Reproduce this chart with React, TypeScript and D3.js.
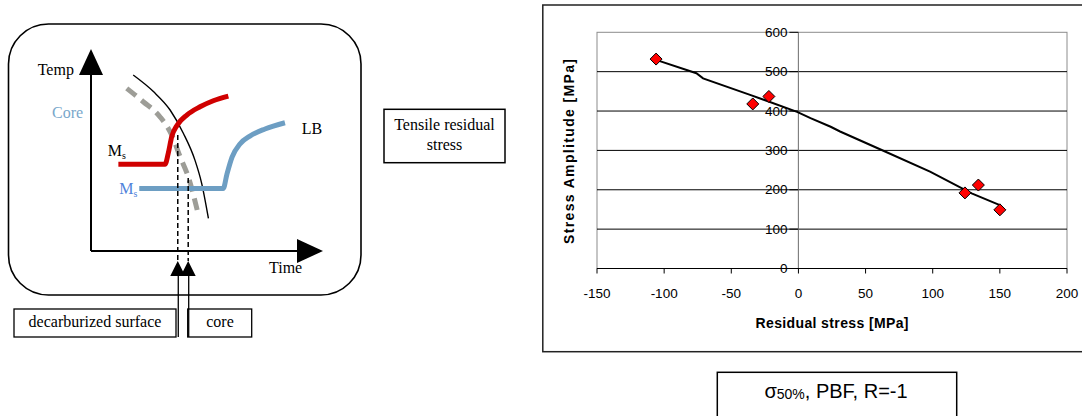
import React from "react";
import * as d3 from "d3";

// scatter data: residual stress vs stress amplitude
const residual = [-106, -34, -22, 124, 134, 150];
const amplitude = [532, 418, 437, 192, 212, 149];

// hand drawn trend line through the points
const trendX = [-106, -76, -71, -36, -1, 9, 24, 31, 62, 98, 129, 150];
const trendY = [530, 496, 483, 441, 398, 382, 360, 348, 301, 246, 191, 161];

const xTicks = [-150, -100, -50, 0, 50, 100, 150, 200];
const yTicks = [0, 100, 200, 300, 400, 500, 600];

// schematic CCT sketch (time / temp units, 0..100)
const redCurve: [number, number][] = [
  [11.8, 42.9], [31.9, 42.9], [33.3, 48.4], [34.8, 56.6], [37.2, 62.4],
  [41.3, 67.3], [47, 71.4], [52.7, 74.4], [59.2, 76.7],
];
const blueCurve: [number, number][] = [
  [20.8, 31], [57, 31], [58.6, 38.1], [60.8, 46.5], [64.2, 53],
  [68.5, 56.9], [75, 60.4], [83.6, 63.5],
];
const grayCurve: [number, number][] = [
  [15.4, 80.5], [22.5, 73.9], [29.7, 66.5], [34.8, 57.4], [38.4, 46.7],
  [41.9, 36.8], [46.3, 17.8],
];
const blackCurve: [number, number][] = [
  [18.2, 87.1], [26.9, 78.9], [34.1, 69.8], [39.8, 58.3], [44.8, 45],
  [47.7, 33.5], [50.6, 16.2],
];
const dropT = [37.4, 41.9];
const dropFrom = [57.4, 36.1];

const serif = "'Liberation Serif', 'Times New Roman', serif";
const sans = "'Liberation Sans', Arial, sans-serif";

const Schematic = () => {
  const sx = d3.scaleLinear().domain([0, 100]).range([91, 323]);
  const sy = d3.scaleLinear().domain([0, 100]).range([251, 49]);
  const line = d3
    .line<[number, number]>()
    .x((d) => sx(d[0]))
    .y((d) => sy(d[1]))
    .curve(d3.curveMonotoneX);

  const x0 = sx(0), y0 = sy(0);
  const arrowTipY = 261;

  return (
    <g>
      <rect x={8.5} y={24} width={352.5} height={271} rx={40} fill="none" stroke="#000" strokeWidth={1.6} />
      {/* axes */}
      <line x1={x0} y1={y0} x2={x0} y2={75} stroke="#000" strokeWidth={2} />
      <path d={`M${x0},49 L${x0 - 12},75 L${x0 + 12},75 Z`} fill="#000" />
      <line x1={x0} y1={y0} x2={297} y2={y0} stroke="#000" strokeWidth={2} />
      <path d={`M323,${y0} L297,${y0 - 12} L297,${y0 + 12} Z`} fill="#000" />

      <path d={line(grayCurve) || ""} fill="none" stroke="#9d9d97" strokeWidth={5} strokeDasharray="12 7" />
      <path d={line(blackCurve) || ""} fill="none" stroke="#000" strokeWidth={1.4} />
      <path d={line(redCurve) || ""} fill="none" stroke="#d00000" strokeWidth={5} />
      <path d={line(blueCurve) || ""} fill="none" stroke="#6d9ec3" strokeWidth={5} />

      {dropT.map((t, i) => (
        <line key={i} x1={sx(t)} x2={sx(t)} y1={sy(dropFrom[i])} y2={arrowTipY}
          stroke="#000" strokeWidth={1.5} strokeDasharray="5 3" />
      ))}

      {/* upward arrows */}
      {dropT.map((t, i) => {
        const ax = sx(t);
        return (
          <g key={i}>
            <path d={`M${ax},${arrowTipY} L${ax - 7.5},276 L${ax + 7.5},276 Z`} fill="#000" />
            <line x1={ax + 0.5} x2={ax + 0.5} y1={276} y2={337} stroke="#000" strokeWidth={1.3} />
          </g>
        );
      })}

      <rect x={14} y={309} width={162} height={28} fill="none" stroke="#000" strokeWidth={1.3} />
      <rect x={187.7} y={309} width={64} height={28} fill="none" stroke="#000" strokeWidth={1.3} />

      <g fontFamily={serif} fontSize={16}>
        <text x={37.7} y={75}>Temp</text>
        <text x={269} y={273}>Time</text>
        <text x={52} y={118} fill="#79a7cb">Core</text>
        <text x={301.7} y={134}>LB</text>
        <text x={107.7} y={156}>M<tspan fontSize={10} dy={3}>s</tspan></text>
        <text x={119.3} y={194} fill="#4f83db">M<tspan fontSize={10} dy={3}>s</tspan></text>
        <text x={95} y={327} textAnchor="middle">decarburized surface</text>
        <text x={220} y={327} textAnchor="middle">core</text>
      </g>

      <rect x={384} y={109.3} width={121} height={53.4} fill="none" stroke="#000" strokeWidth={1.5} />
      <g fontFamily={serif} fontSize={16} textAnchor="middle">
        <text x={444.5} y={130}>Tensile residual</text>
        <text x={444.5} y={150}>stress</text>
      </g>
    </g>
  );
};

const Scatter = () => {
  const x = d3.scaleLinear().domain([-150, 200]).range([597, 1067]);
  const y = d3.scaleLinear().domain([0, 600]).range([268.5, 32.3]);
  const trend = d3
    .line<number>()
    .x((d) => x(d))
    .y((_, i) => y(trendY[i]));

  const [left, right] = x.range();
  const [bottom, top] = y.range();

  return (
    <g fontFamily={sans}>
      <rect x={542.8} y={5} width={560} height={346.7} fill="#fff" stroke="#222" strokeWidth={1.5} />
      <rect x={left} y={top} width={right - left} height={bottom - top} fill="none" stroke="#8c8c8c" strokeWidth={1} />
      {yTicks.filter((t) => t > 0 && t < 600).map((t) => (
        <line key={t} x1={left} x2={right} y1={y(t)} y2={y(t)} stroke="#000" strokeWidth={1} />
      ))}
      {/* axes crossing at 0 */}
      <line x1={x(0)} x2={x(0)} y1={top} y2={bottom} stroke="#808080" strokeWidth={1.2} />
      <line x1={left} x2={right} y1={bottom} y2={bottom} stroke="#000" strokeWidth={1.2} />
      {yTicks.map((t) => (
        <g key={t}>
          <line x1={x(0) - 9} x2={x(0)} y1={y(t)} y2={y(t)} stroke="#000" />
          <text x={787.5} y={y(t) + 4.7} fontSize={13.5} textAnchor="end">{t}</text>
        </g>
      ))}
      {xTicks.map((t) => (
        <g key={t}>
          <line x1={x(t)} x2={x(t)} y1={bottom} y2={bottom + 5} stroke="#000" />
          <text x={x(t)} y={297.5} fontSize={13.5} textAnchor="middle">{t}</text>
        </g>
      ))}

      <path d={trend(trendX) || ""} fill="none" stroke="#000" strokeWidth={2} />

      {residual.map((r, i) => {
        const cx = x(r), cy = y(amplitude[i]);
        const s = 6;
        return (
          <path key={i} d={`M${cx},${cy - s} L${cx + s},${cy} L${cx},${cy + s} L${cx - s},${cy} Z`}
            fill="#ff0000" stroke="#000" strokeWidth={1} />
        );
      })}

      <text x={832} y={327.5} fontSize={14} fontWeight="bold" textAnchor="middle"
        textLength={153} lengthAdjust="spacing">Residual stress [MPa]</text>
      <text transform="translate(573.7,151.5) rotate(-90)" fontSize={14} fontWeight="bold"
        textAnchor="middle" textLength={185} lengthAdjust="spacing">Stress Amplitude [MPa]</text>

      <rect x={717.3} y={372.3} width={239.4} height={60} fill="#fff" stroke="#000" strokeWidth={1.5} />
      <text x={836} y={397.5} fontSize={20} textAnchor="middle">
        σ<tspan fontSize={14} dy={1}>50%</tspan><tspan dy={-1}>, PBF, R=-1</tspan>
      </text>
    </g>
  );
};

export default function App() {
  return (
    <svg width={1082} height={416} style={{ position: "absolute", left: 0, top: 0, background: "#fff" }}>
      <Schematic />
      <Scatter />
    </svg>
  );
}
